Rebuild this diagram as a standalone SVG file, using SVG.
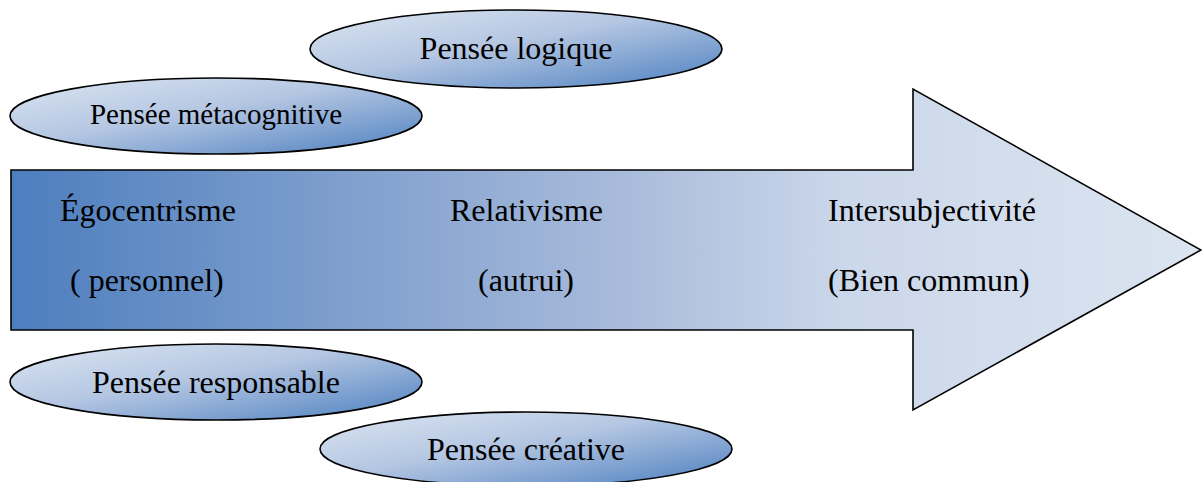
<svg xmlns="http://www.w3.org/2000/svg" width="1202" height="482" viewBox="0 0 1202 482">
<defs>
<linearGradient id="ellGrad" x1="0" y1="0" x2="1" y2="1">
<stop offset="0" stop-color="#dde6f2"/>
<stop offset="0.45" stop-color="#b4c6e2"/>
<stop offset="1" stop-color="#4a7ebf"/>
</linearGradient>
<linearGradient id="arrGrad" gradientUnits="userSpaceOnUse" x1="10" y1="0" x2="1202" y2="0">
<stop offset="0" stop-color="#4d7ebe"/>
<stop offset="0.5" stop-color="#a6b9da"/>
<stop offset="0.7" stop-color="#cbd7ea"/>
<stop offset="1" stop-color="#dbe4f0"/>
</linearGradient>
</defs>
<style>
.shape{stroke:#000;stroke-width:1.6}
.ell{fill:url(#ellGrad)}
.t{font-family:"Liberation Serif","Times New Roman",serif;font-size:32px;fill:#000}
.ts{font-size:29px}
</style>
<g id="arrow">
<path class="shape" d="M11,170 L913,170 L913,89 L1201,250 L913,410 L913,330 L11,330 Z" fill="url(#arrGrad)"/>
<text class="t" x="60" y="221">Égocentrisme</text>
<text class="t" x="70" y="291">( personnel)</text>
<text class="t" x="450" y="221">Relativisme</text>
<text class="t" x="478" y="291">(autrui)</text>
<text class="t" x="828" y="221">Intersubjectivité</text>
<text class="t" x="828" y="291">(Bien commun)</text>
</g>
<g id="logique">
<ellipse class="shape ell" cx="516" cy="49" rx="206" ry="39"/>
<text class="t" x="516" y="59" text-anchor="middle">Pensée logique</text>
</g>
<g id="metacognitive">
<ellipse class="shape ell" cx="216" cy="116" rx="206" ry="38"/>
<text class="t ts" x="216" y="124" text-anchor="middle">Pensée métacognitive</text>
</g>
<g id="responsable">
<ellipse class="shape ell" cx="216" cy="382" rx="206" ry="38"/>
<text class="t" x="216" y="393" text-anchor="middle">Pensée responsable</text>
</g>
<g id="creative">
<ellipse class="shape ell" cx="526" cy="449" rx="206" ry="37"/>
<text class="t" x="526" y="460" text-anchor="middle">Pensée créative</text>
</g>
<g id="connectors"></g>
</svg>
